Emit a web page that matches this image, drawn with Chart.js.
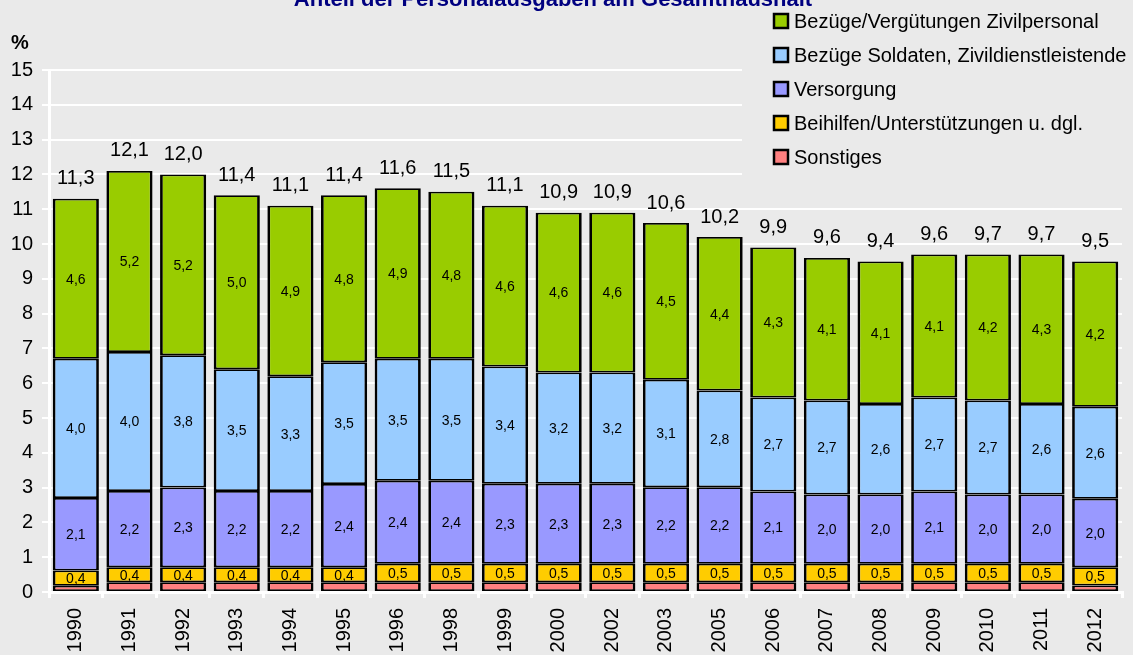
<!DOCTYPE html>
<html>
<head>
<meta charset="utf-8">
<script src="https://cdn.jsdelivr.net/npm/chart.js@4/dist/chart.umd.min.js"></script>
<style>
  html, body { margin: 0; padding: 0; background: #eaeaea; }
  #wrap { width: 1133px; height: 655px; }
</style>
</head>
<body>
<div id="wrap"><canvas id="chart"></canvas></div>
<script>
// Data (Anteil in % am Gesamthaushalt)
const years = ["1990", "1991", "1992", "1993", "1994", "1995", "1996", "1998", "1999", "2000",
  "2002", "2003", "2005", "2006", "2007", "2008", "2009", "2010", "2011", "2012"];
const sonstiges = [0.18, 0.28, 0.28, 0.28, 0.28, 0.28, 0.28, 0.28, 0.28, 0.28,
  0.28, 0.28, 0.28, 0.28, 0.28, 0.28, 0.28, 0.28, 0.28, 0.19];
const beihilfen = [0.44, 0.43, 0.43, 0.43, 0.43, 0.43, 0.53, 0.53, 0.53, 0.53,
  0.53, 0.53, 0.53, 0.53, 0.53, 0.53, 0.53, 0.53, 0.53, 0.52];
const versorgung = [2.08, 2.19, 2.29, 2.19, 2.19, 2.39, 2.39, 2.39, 2.30, 2.30,
  2.30, 2.20, 2.20, 2.08, 1.99, 1.99, 2.08, 1.99, 1.99, 1.97];
const soldaten = [4.0, 4.0, 3.8, 3.5, 3.3, 3.5, 3.5, 3.5, 3.37, 3.2,
  3.2, 3.09, 2.78, 2.7, 2.7, 2.6, 2.7, 2.7, 2.6, 2.64];
const zivil = [4.6, 5.2, 5.2, 5.0, 4.9, 4.8, 4.9, 4.8, 4.62, 4.59,
  4.59, 4.5, 4.41, 4.31, 4.1, 4.1, 4.11, 4.2, 4.3, 4.18];
const totals = [11.3, 12.1, 12.0, 11.4, 11.1, 11.4, 11.6, 11.5, 11.1, 10.9,
  10.9, 10.6, 10.2, 9.9, 9.6, 9.4, 9.6, 9.7, 9.7, 9.5];
const yTicks = [0, 15, 1]; // min, max, step

const BG = "#eaeaea";
const FONT = "Arial, 'Liberation Sans', sans-serif";

function fmt(v) {
  return v.toFixed(1).replace(".", ",");
}

function makeSet(label, data, color, showLabels) {
  return {
    label: label,
    data: data,
    backgroundColor: color,
    borderColor: "#000",
    borderWidth: { top: 1.75, bottom: 1.75, left: 2.75, right: 2.75 },
    borderSkipped: false,
    showLabels: showLabels,
  };
}

// labels in the segments, totals on top, title, % and legend box
const drawExtras = {
  id: "drawExtras",
  afterDatasetsDraw(chart) {
    const ctx = chart.ctx;
    ctx.save();
    ctx.fillStyle = "#000";
    ctx.textAlign = "center";
    ctx.textBaseline = "middle";
    ctx.font = "14px " + FONT;
    chart.data.datasets.forEach((ds, i) => {
      if (!ds.showLabels) return;
      chart.getDatasetMeta(i).data.forEach((bar, j) => {
        const p = bar.getProps(["x", "y", "base"], true);
        ctx.fillText(fmt(ds.data[j]), p.x, (p.y + p.base) / 2 + 1);
      });
    });

    // totals
    const last = chart.getDatasetMeta(chart.data.datasets.length - 1);
    ctx.font = "20px " + FONT;
    last.data.forEach((bar, j) => {
      const p = bar.getProps(["x", "y"], true);
      ctx.fillText(fmt(totals[j]), p.x, p.y - 20);
    });
    ctx.restore();
  },
  afterDraw(chart) {
    const ctx = chart.ctx;
    ctx.save();

    // legend area covers the gridlines
    ctx.fillStyle = BG;
    ctx.fillRect(742, 0, chart.width - 742, 190);

    const sets = chart.data.datasets.slice().reverse();
    ctx.font = "20px " + FONT;
    ctx.textAlign = "left";
    ctx.textBaseline = "middle";
    sets.forEach((ds, i) => {
      const cy = 21 + i * 34;
      ctx.fillStyle = ds.backgroundColor;
      ctx.fillRect(774, cy - 7, 14, 14);
      ctx.lineWidth = 2.5;
      ctx.strokeStyle = "#000";
      ctx.strokeRect(774, cy - 7, 14, 14);
      ctx.fillStyle = "#000";
      ctx.fillText(ds.label, 794, cy + 1);
    });

    // title, cut at the top
    ctx.fillStyle = "#000080";
    ctx.font = "bold 22px " + FONT;
    ctx.textAlign = "center";
    ctx.textBaseline = "alphabetic";
    ctx.fillText("Anteil der Personalausgaben am Gesamthaushalt", 553, 6);

    // unit
    ctx.fillStyle = "#000";
    ctx.font = "bold 20px " + FONT;
    ctx.textAlign = "left";
    ctx.fillText("%", 11, 49);
    ctx.restore();
  },
};

new Chart(document.getElementById("chart"), {
  type: "bar",
  data: {
    labels: years,
    datasets: [
      makeSet("Sonstiges", sonstiges, "#ff8080", false),
      makeSet("Beihilfen/Unterstützungen u. dgl.", beihilfen, "#ffcc00", true),
      makeSet("Versorgung", versorgung, "#9999ff", true),
      makeSet("Bezüge Soldaten, Zivildienstleistende", soldaten, "#99ccff", true),
      makeSet("Bezüge/Vergütungen Zivilpersonal", zivil, "#99cc00", true),
    ],
  },
  options: {
    responsive: true,
    maintainAspectRatio: false,
    animation: false,
    layout: { padding: { top: 70, right: 11, left: 0, bottom: 0 } },
    datasets: { bar: { categoryPercentage: 1, barPercentage: 0.86 } },
    plugins: {
      legend: { display: false },
      title: { display: false },
      tooltip: { enabled: false },
    },
    scales: {
      x: {
        stacked: true,
        afterFit: (s) => { s.height = 63; },
        border: { color: "#fff", width: 3 },
        grid: { drawOnChartArea: false, color: "#fff", lineWidth: 3, tickLength: 6, offset: true },
        ticks: {
          color: "#000",
          font: { family: FONT, size: 20 },
          minRotation: 90,
          maxRotation: 90,
          padding: 10,
        },
      },
      y: {
        stacked: true,
        min: yTicks[0],
        max: yTicks[1],
        afterFit: (s) => { s.width = 49; },
        border: { color: "#fff", width: 3 },
        grid: { color: "#fff", lineWidth: 2, tickLength: 7 },
        ticks: {
          stepSize: yTicks[2],
          color: "#000",
          font: { family: FONT, size: 20 },
          padding: 9,
        },
      },
    },
  },
  plugins: [drawExtras],
});
</script>
</body>
</html>
